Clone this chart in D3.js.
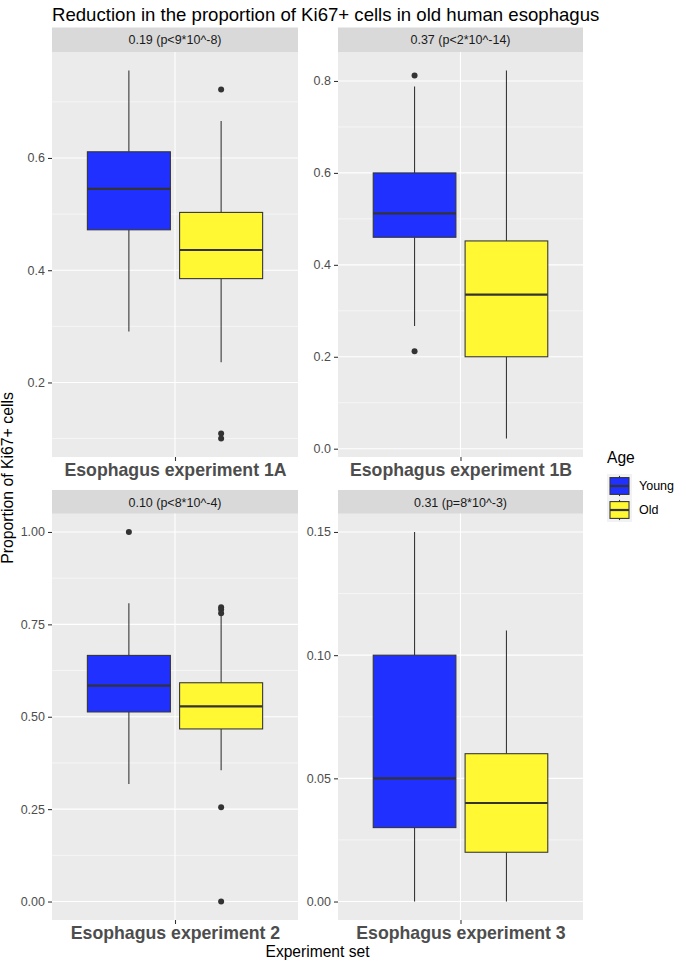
<!DOCTYPE html>
<html>
<head>
<meta charset="utf-8">
<script src="https://cdn.jsdelivr.net/npm/d3@7"></script>
<style>
  html, body { margin: 0; padding: 0; background: #fff; }
  svg { display: block; font-family: "Liberation Sans", Arial, Helvetica, sans-serif; }
</style>
</head>
<body>
<svg id="chart" width="677" height="964"></svg>
<script>
// ---------------- data ----------------
const title = "Reduction in the proportion of Ki67+ cells in old human esophagus";
const panelNames = ["Esophagus experiment 1A", "Esophagus experiment 1B", "Esophagus experiment 2", "Esophagus experiment 3"];
const stripLabels = ["0.19 (p<9*10^-8)", "0.37 (p<2*10^-14)", "0.10 (p<8*10^-4)", "0.31 (p=8*10^-3)"];
const groups = ["Young", "Old"];

// per panel: [Young, Old]
const whiskerLow  = [[0.291, 0.236], [0.267, 0.022], [0.318, 0.355], [0.000, 0.000]];
const q1          = [[0.472, 0.385], [0.460, 0.200], [0.513, 0.467], [0.030, 0.020]];
const medians     = [[0.545, 0.436], [0.512, 0.335], [0.584, 0.528], [0.050, 0.040]];
const q3          = [[0.611, 0.503], [0.600, 0.452], [0.666, 0.592], [0.100, 0.060]];
const whiskerHigh = [[0.756, 0.666], [0.788, 0.823], [0.807, 0.774], [0.150, 0.110]];
const outliers = [
  [[], [0.722, 0.109, 0.100]],
  [[0.812, 0.212], []],
  [[1.0], [0.796, 0.790, 0.780, 0.255, 0.0]],
  [[], []]
];
const yTicks = [[0.2, 0.4, 0.6], [0, 0.2, 0.4, 0.6, 0.8], [0, 0.25, 0.5, 0.75, 1], [0, 0.05, 0.1, 0.15]];
const yTickLabels = [["0.2", "0.4", "0.6"], ["0.0", "0.2", "0.4", "0.6", "0.8"],
                     ["0.00", "0.25", "0.50", "0.75", "1.00"], ["0.00", "0.05", "0.10", "0.15"]];
const yTitle = "Proportion of Ki67+ cells";
const xTitle = "Experiment set";
const legendTitle = "Age";

// ---------------- style / layout ----------------
const fills = { Young: "#2030FF", Old: "#FFF833" };
const ink = "#333333";
const FONT = "Liberation Sans, Arial, Helvetica, sans-serif";
const colX = [[52, 298], [338, 583]];
const rowStrip = [27.5, 490];
const stripH = 24.5;
const rowPanel = [[52, 457], [513.5, 920]];

const svg = d3.select("#chart");

svg.append("text").attr("x", 52).attr("y", 20.5)
  .attr("font-size", 18.6).attr("fill", "#000").text(title);

panelNames.forEach((name, p) => {
  const c = p % 2, r = Math.floor(p / 2);
  const [x0, x1] = colX[c];
  const [y0, y1] = rowPanel[r];

  // y domain from data with 5% expansion
  const allVals = [];
  groups.forEach((g, gi) => {
    allVals.push(whiskerLow[p][gi], whiskerHigh[p][gi], ...outliers[p][gi]);
  });
  const lo = d3.min(allVals), hi = d3.max(allVals);
  const pad = (hi - lo) * 0.05;
  const y = d3.scaleLinear().domain([lo - pad, hi + pad]).range([y1, y0]);
  const x = d3.scaleLinear().domain([0.4, 1.6]).range([x0, x1]);

  const g = svg.append("g");

  // strip
  g.append("rect").attr("x", x0).attr("y", rowStrip[r]).attr("width", x1 - x0).attr("height", stripH)
    .attr("fill", "#D9D9D9");
  g.append("text").attr("x", (x0 + x1) / 2).attr("y", rowStrip[r] + stripH / 2 + 4.4)
    .attr("text-anchor", "middle").attr("font-size", 12.5).attr("fill", "#1A1A1A")
    .text(stripLabels[p]);

  // panel background
  g.append("rect").attr("x", x0).attr("y", y0).attr("width", x1 - x0).attr("height", y1 - y0)
    .attr("fill", "#EBEBEB");

  // minor grid
  const t = yTicks[p];
  const step = t[1] - t[0];
  const minors = [];
  for (let i = -1; i < t.length; i++) {
    const v = t[0] + step * (i + 0.5);
    if (v >= y.domain()[0] && v <= y.domain()[1]) minors.push(v);
  }
  g.selectAll(".minor").data(minors).join("line")
    .attr("x1", x0).attr("x2", x1).attr("y1", d => y(d)).attr("y2", d => y(d))
    .attr("stroke", "#fff").attr("stroke-width", 0.55);
  // major grid
  g.selectAll(".major").data(t).join("line")
    .attr("x1", x0).attr("x2", x1).attr("y1", d => y(d)).attr("y2", d => y(d))
    .attr("stroke", "#fff").attr("stroke-width", 1.1);
  g.append("line").attr("x1", x(1)).attr("x2", x(1)).attr("y1", y0).attr("y2", y1)
    .attr("stroke", "#fff").attr("stroke-width", 1.1);

  // y axis
  const yAxis = d3.axisLeft(y).tickValues(t).tickFormat((d, i) => yTickLabels[p][i])
    .tickSizeInner(4).tickSizeOuter(0).tickPadding(3);
  const ya = svg.append("g").attr("transform", `translate(${x0},0)`).call(yAxis);
  ya.select(".domain").remove();
  ya.selectAll(".tick line").attr("stroke", ink).attr("stroke-width", 1.07);
  ya.selectAll(".tick text").attr("fill", "#4D4D4D").attr("font-size", 12.5)
    .attr("font-family", FONT);

  // x axis tick + label
  const xAxis = d3.axisBottom(x).tickValues([1]).tickFormat(() => name)
    .tickSizeInner(4).tickSizeOuter(0).tickPadding(4);
  const xa = svg.append("g").attr("transform", `translate(0,${y1})`).call(xAxis);
  xa.select(".domain").remove();
  xa.selectAll(".tick line").attr("stroke", ink).attr("stroke-width", 1.07);
  xa.selectAll(".tick text").attr("fill", "#4D4D4D").attr("font-size", 17.7)
    .attr("font-weight", "bold").attr("dy", "0.62em")
    .attr("font-family", FONT);

  // boxes
  groups.forEach((grp, gi) => {
    const cx = 1 + (gi === 0 ? -0.225 : 0.225);
    const hw = 0.405 / 2;
    const bx = x(cx - hw), bw = x(cx + hw) - x(cx - hw);
    const xc = x(cx);
    g.append("line").attr("x1", xc).attr("x2", xc)
      .attr("y1", y(q3[p][gi])).attr("y2", y(whiskerHigh[p][gi]))
      .attr("stroke", ink).attr("stroke-width", 1.07);
    g.append("line").attr("x1", xc).attr("x2", xc)
      .attr("y1", y(q1[p][gi])).attr("y2", y(whiskerLow[p][gi]))
      .attr("stroke", ink).attr("stroke-width", 1.07);
    g.append("rect").attr("x", bx).attr("y", y(q3[p][gi]))
      .attr("width", bw).attr("height", y(q1[p][gi]) - y(q3[p][gi]))
      .attr("fill", fills[grp]).attr("stroke", ink).attr("stroke-width", 1.07);
    g.append("line").attr("x1", bx).attr("x2", bx + bw)
      .attr("y1", y(medians[p][gi])).attr("y2", y(medians[p][gi]))
      .attr("stroke", ink).attr("stroke-width", 2.2);
    g.selectAll(null).data(outliers[p][gi]).join("circle")
      .attr("cx", xc).attr("cy", d => y(d)).attr("r", 3)
      .attr("fill", ink);
  });
});

// axis titles
svg.append("text").attr("x", (52 + 583) / 2).attr("y", 957)
  .attr("text-anchor", "middle").attr("font-size", 15.6).attr("fill", "#000").text(xTitle);
svg.append("text").attr("transform", `translate(13,478) rotate(-90)`)
  .attr("text-anchor", "middle").attr("font-size", 15.8).attr("fill", "#000").text(yTitle);

// legend
const lg = svg.append("g");
lg.append("text").attr("x", 607).attr("y", 463).attr("font-size", 15.6).attr("fill", "#000").text(legendTitle);
groups.forEach((grp, i) => {
  const ky = 474 + i * 24, kx = 607, kw = 25, kh = 24;
  lg.append("rect").attr("x", kx).attr("y", ky).attr("width", kw).attr("height", kh).attr("fill", "#F2F2F2");
  const cx = kx + kw / 2;
  lg.append("line").attr("x1", cx).attr("x2", cx).attr("y1", ky + kh * 0.08).attr("y2", ky + kh * 0.92)
    .attr("stroke", ink).attr("stroke-width", 1.07);
  lg.append("rect").attr("x", kx + 3).attr("y", ky + kh * 0.15).attr("width", kw - 6).attr("height", kh * 0.7)
    .attr("fill", fills[grp]).attr("stroke", ink).attr("stroke-width", 1.07);
  lg.append("line").attr("x1", kx + 3).attr("x2", kx + kw - 3).attr("y1", ky + kh / 2).attr("y2", ky + kh / 2)
    .attr("stroke", ink).attr("stroke-width", 2.2);
  lg.append("text").attr("x", 639).attr("y", ky + kh / 2 + 4.4).attr("font-size", 12.5).attr("fill", "#000").text(grp);
});
</script>
</body>
</html>
